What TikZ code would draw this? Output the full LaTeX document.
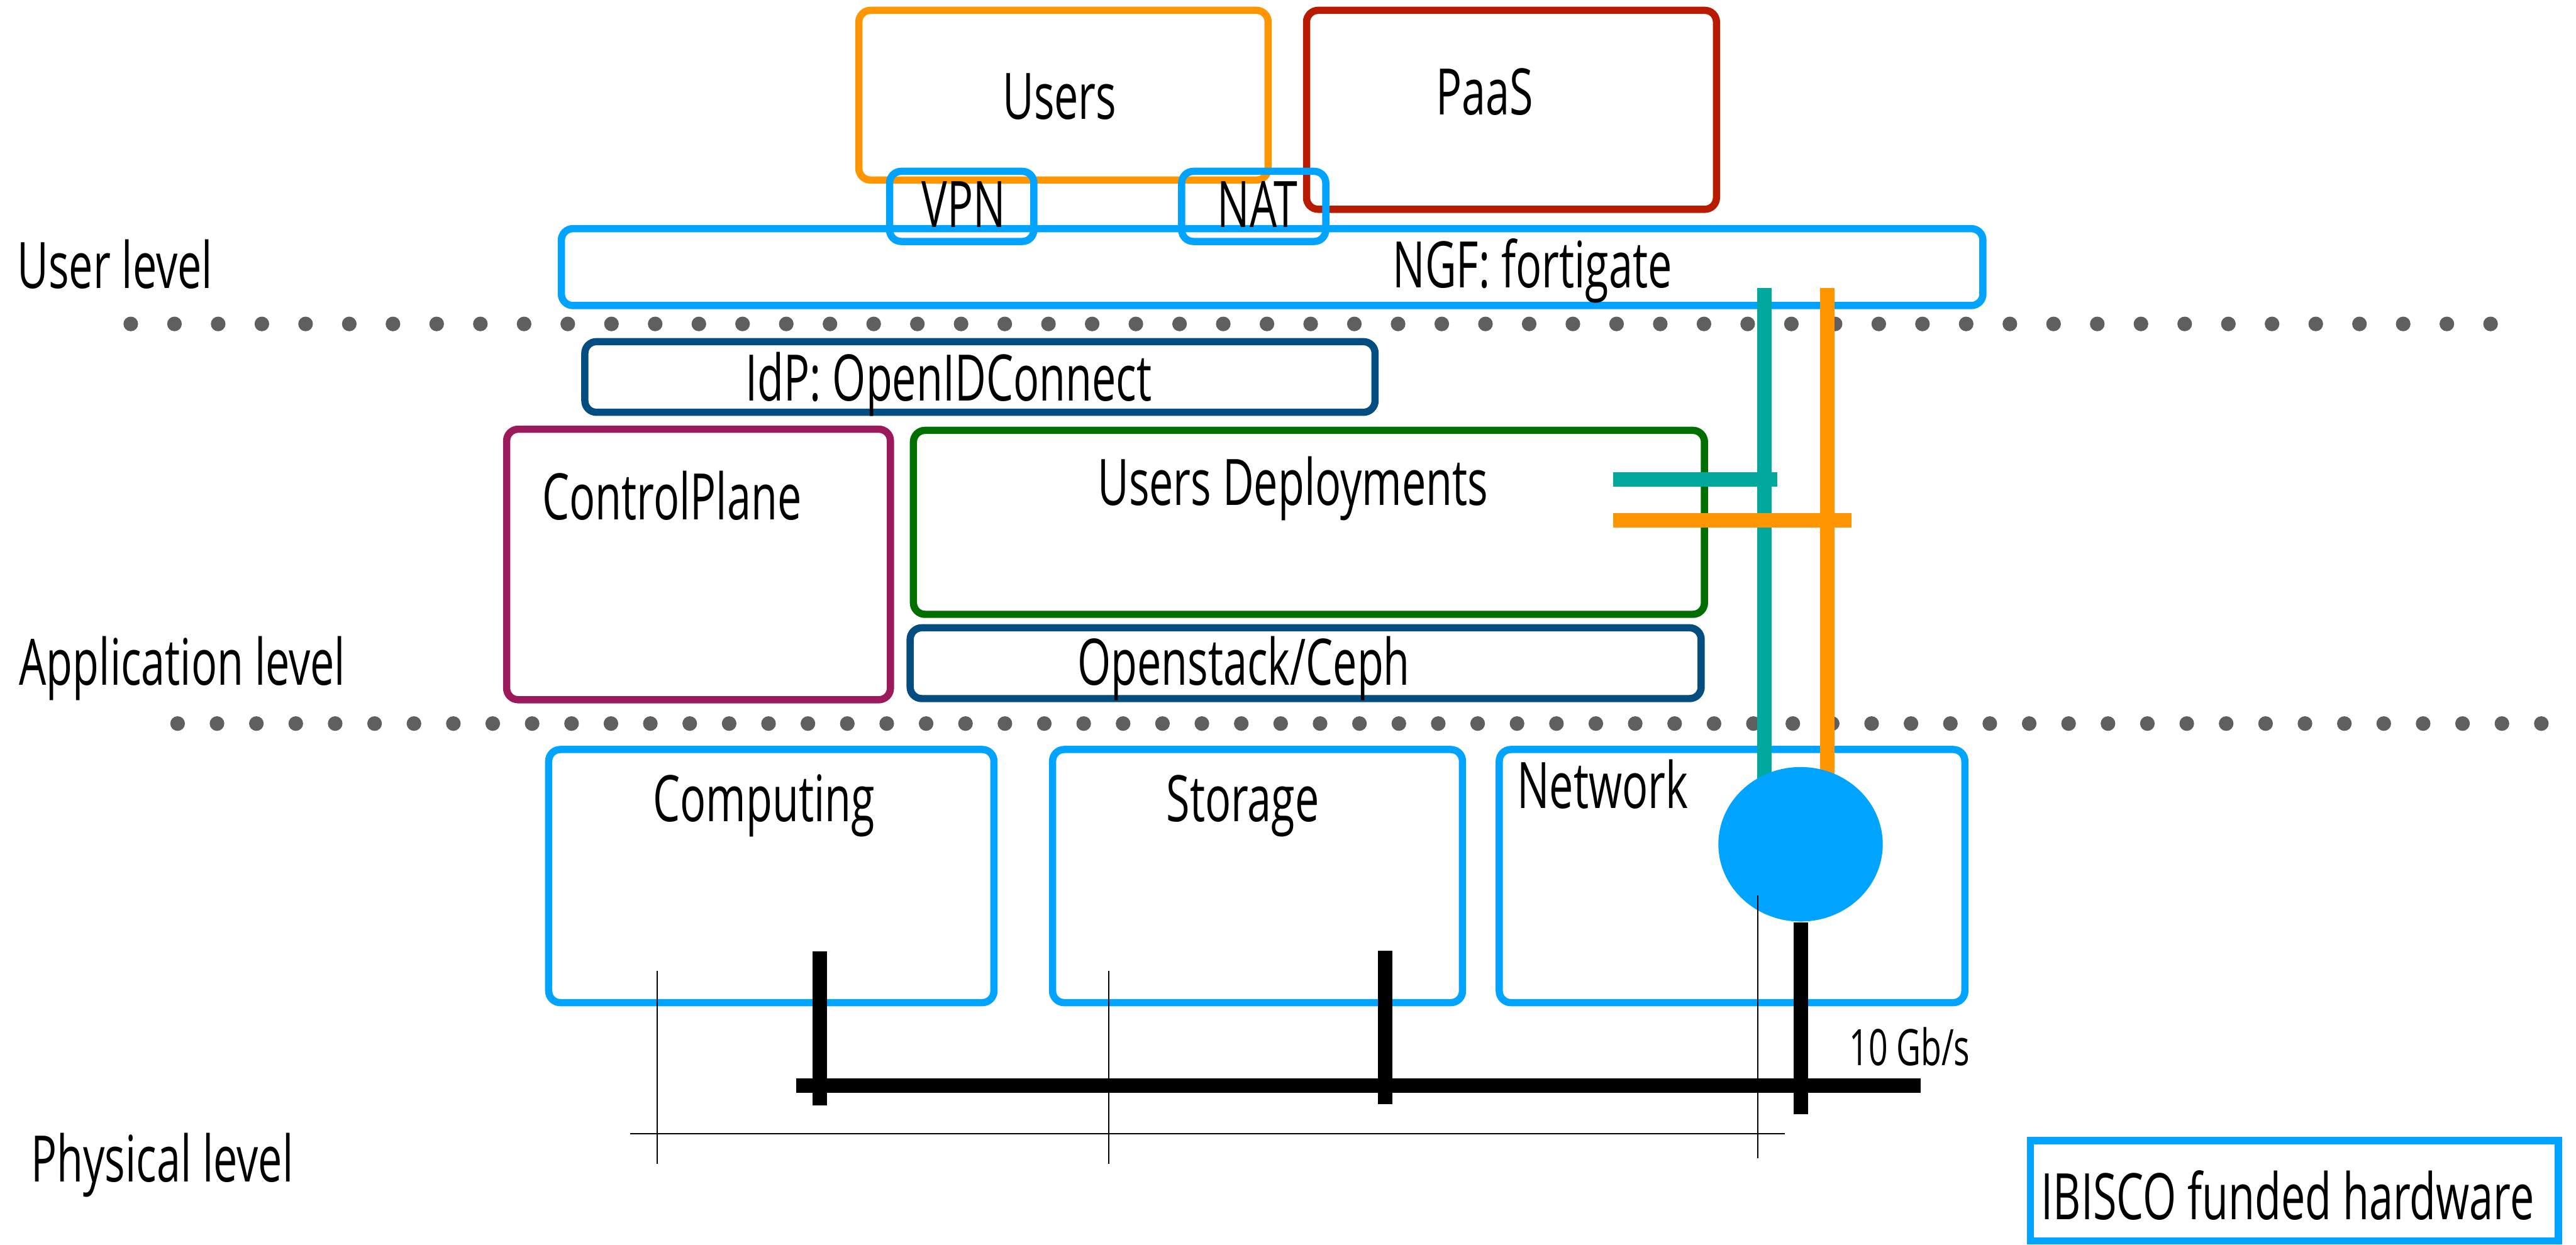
\documentclass[tikz,border=0pt]{standalone}
\usepackage{fontspec}
\setmainfont{Open Sans}[FakeStretch=0.67]
\usetikzlibrary{fit,shapes.geometric}

\definecolor{hwblue}{HTML}{00A3FF}
\definecolor{usrorange}{HTML}{FF9500}
\definecolor{paasred}{HTML}{B81A00}
\definecolor{svcblue}{HTML}{034D80}
\definecolor{ctrlpurple}{HTML}{9C1A5C}
\definecolor{depgreen}{HTML}{006F00}
\definecolor{netteal}{HTML}{00A89E}
\definecolor{dotgray}{HTML}{5F5F5F}

\tikzset{
  box/.style={draw=#1, line width=1.25pt, rounded corners=2pt, inner sep=0pt},
  sqbox/.style={draw=#1, line width=1.25pt, inner sep=0pt},
  txt/.style={font=\fontsize{11.1}{13}\selectfont, inner sep=0pt, anchor=base},
  small/.style={font=\fontsize{8.7}{10}\selectfont, inner sep=0pt, anchor=base},
  netbar/.style={line width=2.5pt, draw=#1},
  busline/.style={line width=2.5pt, draw=black},
  guide/.style={line width=0.2pt, draw=black},
  sep dot/.style={fill=dotgray},
}

\begin{document}
\begin{tikzpicture}[x=0.01cm, y=-0.01cm]
\useasboundingbox (0,0) rectangle (1568,757.6);

% level separators
\foreach \i in {0,...,54} \fill[sep dot] (79.6+\i*26.6,197.2) circle[radius=0.0445cm];
\foreach \i in {0,...,60} \fill[sep dot] (108.1+\i*23.98,440.5) circle[radius=0.0445cm];

% user level
\node[box=usrorange, fit={(522.8,6.3) (771.9,109.6)}] (users) {};
\node[box=paasred, fit={(795.3,6.3) (1044.8,127.4)}] (paas) {};
\node[box=hwblue, fit={(341.7,139.2) (1207,186)}] (ngf) {};
\node[box=hwblue, fit={(541.5,104.3) (629.3,147)}] (vpn) {};
\node[box=hwblue, fit={(719.3,104.3) (807,147)}] (nat) {};
\node[txt] (users-t) at (645,72.5) {Users};
\node[txt] (paas-t) at (903.6,70) {PaaS};
\node[txt] (vpn-t) at (586.6,138.3) {VPN};
\node[txt] (nat-t) at (765.5,138.3) {NAT};
\node[txt] (ngf-t) at (932.8,175) {NGF: fortigate};

% application level
\node[box=svcblue, fit={(356,208) (837,251)}] (idp) {};
\node[box=ctrlpurple, fit={(308.4,261.3) (542,426)}] (ctrl) {};
\node[box=depgreen, fit={(556,262) (1037.5,374)}] (deploy) {};
\node[box=svcblue, fit={(554,382.2) (1035.5,425.3)}] (osc) {};
\node[txt] (idp-t) at (577.5,244) {IdP: OpenIDConnect};
\node[txt] (ctrl-t) at (409,316.4) {ControlPlane};
\node[txt] (deploy-t) at (787,307.7) {Users Deployments};
\node[txt] (osc-t) at (757,417) {Openstack/Ceph};

% physical level
\node[box=hwblue, fit={(334,456.3) (605,610.4)}] (comp) {};
\node[box=hwblue, fit={(640.7,456.3) (890.2,610.4)}] (stor) {};
\node[box=hwblue, fit={(912.6,456.3) (1196,610.4)}] (net) {};
\node[txt] (comp-t) at (465,500) {Computing};
\node[txt] (stor-t) at (756.5,500) {Storage};
\node[txt] (net-t) at (975.5,492) {Network};

% level names
\node[txt] (lvl-user) at (70,175.4) {User level};
\node[txt] (lvl-app) at (111,417) {Application level};
\node[txt] (lvl-phys) at (98.7,719.3) {Physical level};

% legend
\node[sqbox=hwblue, fit={(1236,694.5) (1557.3,755.4)}] (legend) {};
\node[txt] (legend-t) at (1392.5,742.3) {IBISCO funded hardware};

% network paths from the firewall down to the switch
\coordinate (swc) at (1096,514);
\coordinate (tealtop) at (1074,175.5);
\coordinate (orgtop) at (1112.2,175.5);
\draw[netbar=netteal] (tealtop) -- (tealtop |- swc);
\draw[netbar=usrorange] (orgtop) -- (orgtop |- swc);
\node[ellipse, fill=hwblue, inner sep=0pt, minimum width=1cm, minimum height=0.94cm] (sw) at (swc) {};

% tenant links into the deployments
\coordinate (tealL) at (981.8,291.9);
\coordinate (tealR) at (1082,291.9);
\coordinate (orgL) at (981.8,316.7);
\coordinate (orgR) at (1127,316.7);
\draw[netbar=netteal] (tealL) -- (tealR);
\draw[netbar=usrorange] (orgL) -- (orgR);

% 10 Gb/s backbone
\coordinate (busL) at (484.5,661.1);
\coordinate (busR) at (1169,661.1);
\coordinate (compA) at (499,579.2);
\coordinate (compB) at (499,672.8);
\coordinate (storA) at (843,578.8);
\coordinate (storB) at (843,672.4);
\coordinate (netB) at (1096,678.3);
\draw[busline] (busL) -- (busR);
\draw[busline] (compA) -- (compB);
\draw[busline] (storA) -- (storB);
\draw[busline] (sw.south) -- (netB);
\node[small] (speed) at (1162.4,648.5) {10 Gb/s};

% thin guide lines
\coordinate (g1a) at (400,590.9);
\coordinate (g1b) at (400,708.7);
\coordinate (g2a) at (675,590.9);
\coordinate (g2b) at (675,708.7);
\coordinate (g3a) at (1070,545);
\coordinate (g3b) at (1070,705.3);
\coordinate (ghL) at (383.5,690.1);
\coordinate (ghR) at (1086.5,690.1);
\draw[guide] (g1a) -- (g1b);
\draw[guide] (g2a) -- (g2b);
\draw[guide] (ghL) -- (ghR);
\draw[guide] (g3a) -- (g3b);
\end{tikzpicture}
\end{document}
